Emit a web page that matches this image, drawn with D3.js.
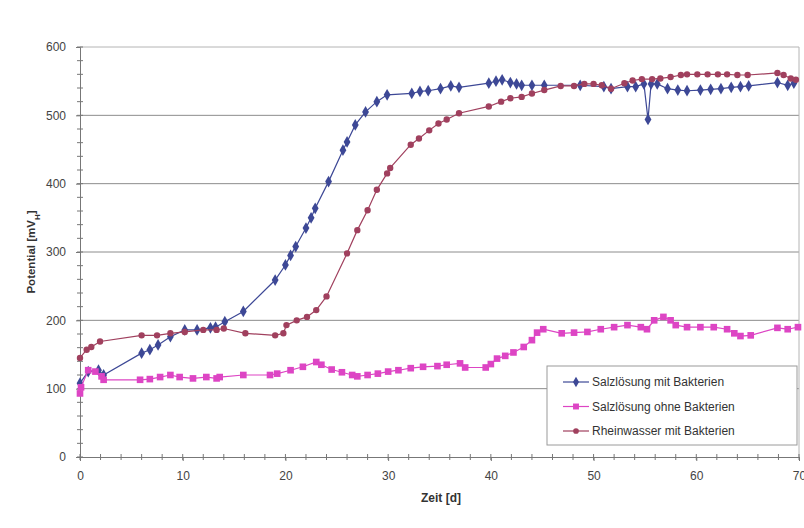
<!DOCTYPE html>
<html>
<head>
<meta charset="utf-8">
<script src="https://cdn.jsdelivr.net/npm/d3@7"></script>
<style>
  body { margin: 0; background: #fff; }
  svg { display: block; font-family: "Liberation Sans", Arial, sans-serif; }
</style>
</head>
<body>
<div id="chart"></div>
<script>
// Salzlösung mit Bakterien
const salzMitDays = [0, 0.8, 1.8, 2.3, 6.0, 6.8, 7.6, 8.8, 10.2, 11.4, 12.7, 13.2, 14.1, 15.9, 19.0, 20.0, 20.5, 21.0, 22.0, 22.5, 22.9, 24.2, 25.6, 26.0, 26.8, 27.8, 28.9, 29.9, 32.3, 33.1, 33.9, 35.1, 36.1, 36.9, 39.8, 40.5, 41.1, 41.9, 42.5, 43.0, 44.0, 45.2, 48.7, 51.0, 51.7, 53.3, 54.1, 54.9, 55.3, 55.6, 56.2, 57.2, 58.2, 59.1, 60.4, 61.4, 62.4, 63.4, 64.3, 65.1, 67.9, 68.9, 69.5];
const salzMitValues = [108, 125, 127, 120, 152, 157, 164, 176, 186, 186, 189, 190, 198, 213, 259, 281, 295, 308, 335, 350, 364, 403, 449, 461, 486, 505, 520, 530, 532, 535, 536, 539, 543, 541, 547, 550, 552, 548, 546, 544, 544, 544, 544, 542, 539, 542, 542, 546, 494, 546, 546, 539, 537, 536, 537, 538, 539, 541, 542, 543, 548, 544, 547];

// Salzlösung ohne Bakterien
const salzOhneDays = [0, 0.1, 0.8, 1.5, 2.1, 2.3, 5.85, 6.8, 7.8, 8.8, 9.7, 11.0, 12.3, 13.3, 13.6, 15.9, 18.5, 19.2, 20.5, 21.7, 23.0, 23.5, 24.5, 25.5, 26.5, 27.0, 28.0, 29.0, 30.0, 31.0, 32.2, 33.4, 34.8, 35.7, 37.0, 37.5, 39.5, 40.0, 40.6, 41.4, 42.2, 43.2, 44.0, 44.5, 45.1, 46.9, 48.1, 49.4, 50.7, 52.0, 53.3, 54.6, 55.2, 55.9, 56.8, 57.5, 58.0, 59.1, 60.4, 61.7, 63.0, 63.7, 64.3, 65.3, 67.9, 68.9, 69.9];
const salzOhneValues = [93, 102, 127, 125, 118, 113, 113, 114, 117, 120, 117, 115, 117, 115, 117, 120, 120, 122, 127, 132, 139, 135, 128, 124, 120, 118, 120, 122, 125, 127, 130, 132, 133, 135, 137, 131, 131, 136, 144, 148, 153, 161, 171, 182, 187, 181, 182, 183, 187, 190, 193, 190, 187, 200, 205, 200, 193, 190, 190, 190, 187, 181, 177, 178, 189, 187, 190];

// Rheinwasser mit Bakterien
const rheinDays = [0, 0.65, 1.1, 1.95, 6.0, 7.5, 8.8, 10.2, 12.0, 13.3, 14.0, 16.1, 19.0, 19.8, 20.1, 21.1, 22.1, 23.0, 24.0, 26.0, 27.0, 28.0, 28.9, 29.9, 30.2, 32.2, 33.0, 34.0, 34.9, 35.7, 36.9, 39.8, 41.0, 41.9, 43.0, 44.0, 45.2, 46.8, 48.1, 49.1, 50.0, 50.8, 51.7, 53.0, 53.8, 54.7, 55.7, 56.5, 57.5, 58.5, 59.1, 60.1, 61.1, 62.1, 63.0, 64.0, 65.0, 67.9, 68.5, 69.2, 69.7];
const rheinValues = [145, 157, 161, 169, 178, 178, 181, 183, 186, 186, 188, 181, 178, 181, 193, 200, 205, 215, 235, 298, 332, 361, 391, 415, 423, 457, 466, 478, 488, 494, 503, 513, 520, 525, 527, 532, 537, 543, 543, 546, 546, 544, 539, 547, 551, 553, 553, 554, 556, 559, 560, 560, 560, 560, 560, 559, 559, 562, 559, 554, 552];

const seriesNames = ["Salzlösung mit Bakterien", "Salzlösung ohne Bakterien", "Rheinwasser mit Bakterien"];
const xTicks = [0, 10, 20, 30, 40, 50, 60, 70];
const yTicks = [0, 100, 200, 300, 400, 500, 600];

const width = 804, height = 528;
const margin = { left: 80, top: 47, right: 5, bottom: 71 };

const svg = d3.select("#chart").append("svg")
  .attr("width", width)
  .attr("height", height);

const x = d3.scaleLinear().domain([0, 70]).range([margin.left, width - margin.right]);
const y = d3.scaleLinear().domain([0, 600]).range([height - margin.bottom, margin.top]);

// gridlines
svg.append("g")
  .selectAll("line")
  .data(yTicks.filter(d => d > 0 && d < 600))
  .join("line")
  .attr("x1", x(0)).attr("x2", x(70))
  .attr("y1", d => y(d)).attr("y2", d => y(d))
  .attr("stroke", "#8c8c8c")
  .attr("stroke-width", 1);

// plot frame (top / right)
svg.append("path")
  .attr("d", `M${x(0)},${y(600)}H${x(70)}V${y(0)}`)
  .attr("fill", "none")
  .attr("stroke", "#b4b4b4");

// y axis
const yAxis = svg.append("g")
  .attr("transform", `translate(${x(0)},0)`)
  .call(d3.axisLeft(y).tickValues(yTicks).tickSize(4).tickPadding(10));
yAxis.append("g")
  .selectAll("line")
  .data(d3.range(0, 601, 20))
  .join("line")
  .attr("x1", -3).attr("x2", 3)
  .attr("y1", d => y(d)).attr("y2", d => y(d))
  .attr("stroke", "#777");

// x axis
const xAxis = svg.append("g")
  .attr("transform", `translate(0,${y(0)})`)
  .call(d3.axisBottom(x).tickValues(xTicks).tickSize(4).tickPadding(10));
xAxis.append("g")
  .selectAll("line")
  .data(d3.range(0, 71, 2))
  .join("line")
  .attr("x1", d => x(d)).attr("x2", d => x(d))
  .attr("y1", -3).attr("y2", 3)
  .attr("stroke", "#777");

[xAxis, yAxis].forEach(ax => {
  ax.select(".domain").attr("stroke", "#777");
  ax.selectAll(".tick line").attr("stroke", "#777");
  ax.selectAll(".tick text")
    .attr("fill", "#444")
    .style("font-size", "12px");
});

// axis titles
svg.append("text")
  .attr("x", 441)
  .attr("y", 502)
  .attr("text-anchor", "middle")
  .attr("fill", "#333")
  .style("font-size", "12px")
  .style("font-weight", "bold")
  .text("Zeit [d]");

const yTitle = svg.append("text")
  .attr("transform", `translate(35,${(y(0) + y(600)) / 2}) rotate(-90)`)
  .attr("text-anchor", "middle")
  .attr("fill", "#333")
  .style("font-size", "11.5px")
  .style("font-weight", "bold");
yTitle.append("tspan").text("Potential [mV");
yTitle.append("tspan").attr("baseline-shift", "sub").style("font-size", "8px").text("H");
yTitle.append("tspan").text("]");

// series
const series = [
  { name: seriesNames[0], days: salzMitDays, values: salzMitValues, color: "#3d4896", symbol: d3.symbolDiamond, size: 40 },
  { name: seriesNames[1], days: salzOhneDays, values: salzOhneValues, color: "#dd45c4", symbol: d3.symbolSquare, size: 44 },
  { name: seriesNames[2], days: rheinDays, values: rheinValues, color: "#a0405e", symbol: d3.symbolCircle, size: 32 }
];

const line = d3.line()
  .x(d => x(d[0]))
  .y(d => y(d[1]));

series.forEach(s => {
  const pts = s.days.map((d, i) => [d, s.values[i]]);
  const g = svg.append("g");
  g.append("path")
    .datum(pts)
    .attr("d", line)
    .attr("fill", "none")
    .attr("stroke", s.color)
    .attr("stroke-width", 1.2);
  g.selectAll("path.mark")
    .data(pts)
    .join("path")
    .attr("class", "mark")
    .attr("transform", d => `translate(${x(d[0])},${y(d[1])})`)
    .attr("d", d3.symbol().type(s.symbol).size(s.size))
    .attr("fill", s.color);
});

// legend
const legend = svg.append("g").attr("transform", "translate(547,366)");
legend.append("rect")
  .attr("width", 250)
  .attr("height", 79)
  .attr("fill", "#fff")
  .attr("stroke", "#9a9a9a");

const items = legend.selectAll("g.item")
  .data(series)
  .join("g")
  .attr("class", "item")
  .attr("transform", (d, i) => `translate(0,${16 + i * 24.5})`);
items.append("line")
  .attr("x1", 16).attr("x2", 42)
  .attr("stroke", d => d.color)
  .attr("stroke-width", 1.2);
items.append("path")
  .attr("transform", "translate(29,0)")
  .attr("d", d => d3.symbol().type(d.symbol).size(d.size * 0.8)())
  .attr("fill", d => d.color);
items.append("text")
  .attr("x", 45)
  .attr("dy", "0.35em")
  .attr("fill", "#333")
  .style("font-size", "12px")
  .text(d => d.name);
</script>
</body>
</html>
